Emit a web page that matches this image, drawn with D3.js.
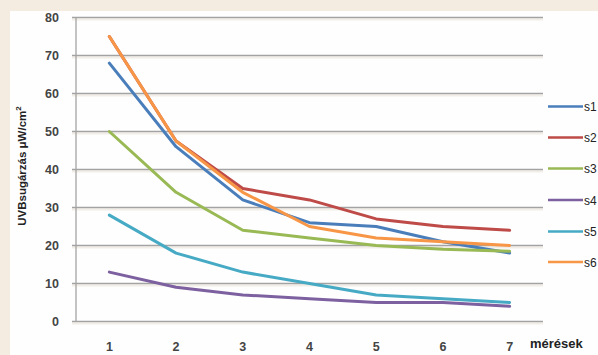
<!DOCTYPE html>
<html><head><meta charset="utf-8">
<script src="https://cdn.jsdelivr.net/npm/d3@7"></script>
<style>body{margin:0;background:#f4ece0;}svg{display:block;}</style>
</head><body>
<svg id="c" width="598" height="355"></svg>
<script>
const categories = ["1","2","3","4","5","6","7"];
const seriesNames = ["s1","s2","s3","s4","s5","s6"];
const s1 = [68, 46, 32, 26, 25, 21, 18];
const s2 = [75, 47.5, 35, 32, 27, 25, 24];
const s3 = [50, 34, 24, 22, 20, 19, 18.5];
const s4 = [13, 9, 7, 6, 5, 5, 4];
const s5 = [28, 18, 13, 10, 7, 6, 5];
const s6 = [75, 47.5, 34, 25, 22, 21, 20];
const yTicks = [0, 10, 20, 30, 40, 50, 60, 70, 80];
const colors = ["#4a7ebb", "#be4b48", "#98b954", "#7d60a0", "#46aac5", "#f79646"];
const seriesValues = [s1, s2, s3, s4, s5, s6];

(function(){
const svg = d3.select("#c");
svg.append("rect").attr("x", 10).attr("y", 11).attr("width", 588).attr("height", 344).attr("fill", "#fefefe");

const pL = 76, pR = 543, pT = 17.5, pB = 321.5;
const x = d3.scaleBand().domain(categories).range([pL, pR]);
const y = d3.scaleLinear().domain([0, 80]).range([pB, pT]);

const g = svg.append("g");
yTicks.forEach(t => {
  g.append("line").attr("x1", pL - 4).attr("x2", pR).attr("y1", y(t) + 2).attr("y2", y(t) + 2)
    .attr("stroke", "#f2ede6").attr("stroke-width", 2);
  g.append("line").attr("x1", pL - 4).attr("x2", pR).attr("y1", y(t)).attr("y2", y(t))
    .attr("stroke", "#a3a3a3").attr("stroke-width", 1.3);
});
g.append("line").attr("x1", pL).attr("x2", pL).attr("y1", pT).attr("y2", pB)
  .attr("stroke", "#a3a3a3").attr("stroke-width", 1.3);

const yAxis = d3.axisLeft(y).tickValues(yTicks).tickSize(0).tickPadding(17);
const ya = svg.append("g").attr("transform", `translate(${pL},0)`).call(yAxis);
ya.select(".domain").remove();
ya.selectAll("text").attr("font-family", "Liberation Sans, Arial, sans-serif").attr("font-size", 12.5)
  .attr("font-weight", "bold").attr("fill", "#444");

const xAxis = d3.axisBottom(x).tickSize(0).tickPadding(21);
const xa = svg.append("g").attr("transform", `translate(0,${pB})`).call(xAxis);
xa.select(".domain").remove();
xa.selectAll("text").attr("font-family", "Liberation Sans, Arial, sans-serif").attr("font-size", 12.5)
  .attr("font-weight", "bold").attr("fill", "#444");

const line = d3.line().x((d, i) => x(categories[i]) + x.bandwidth() / 2).y(d => y(d)).curve(d3.curveLinear);
seriesValues.forEach((vals, k) => {
  svg.append("path").attr("d", line(vals)).attr("fill", "none").attr("stroke", colors[k])
    .attr("stroke-width", 3).attr("stroke-linejoin", "round").attr("stroke-linecap", "round");
});

const legY = [106.5, 137.5, 168.5, 200, 231.5, 262];
seriesNames.forEach((n, k) => {
  svg.append("line").attr("x1", 548).attr("x2", 583).attr("y1", legY[k]).attr("y2", legY[k])
    .attr("stroke", colors[k]).attr("stroke-width", 2.5);
  svg.append("text").attr("x", 584).attr("y", legY[k] + 4.5).text(n)
    .attr("font-family", "Liberation Sans, Arial, sans-serif").attr("font-size", 12).attr("fill", "#222");
});

svg.append("text").attr("x", 530).attr("y", 348).text("mérések")
  .attr("font-family", "Liberation Sans, Arial, sans-serif").attr("font-size", 13).attr("font-weight", "bold").attr("fill", "#222");
const yt = svg.append("text").attr("transform", "translate(26,166) rotate(-90)").attr("text-anchor", "middle")
  .attr("font-family", "Liberation Sans, Arial, sans-serif").attr("font-size", 11.5).attr("font-weight", "bold").attr("fill", "#222");
yt.append("tspan").text("UVBsugárzás  μW/cm");
yt.append("tspan").attr("dy", -5).attr("font-size", 8).text("2");
})();
</script>
</body></html>
